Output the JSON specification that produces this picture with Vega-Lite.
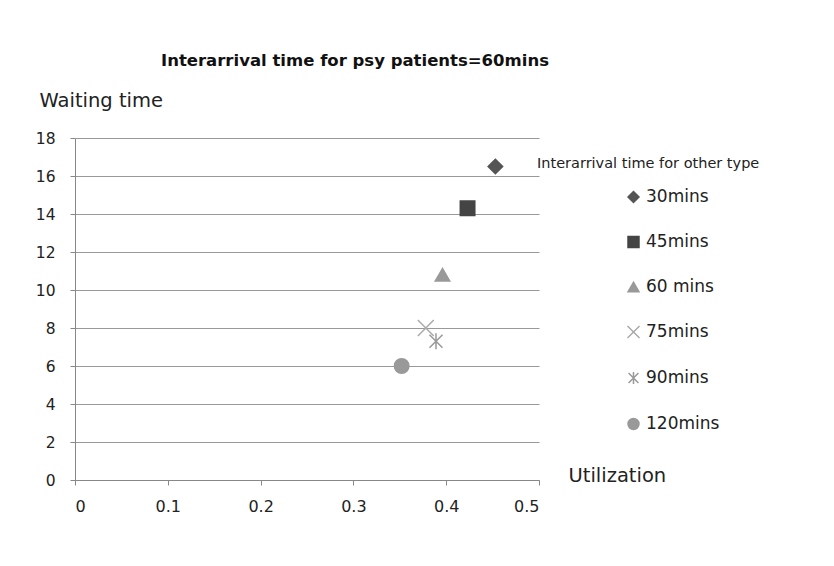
{
  "$schema": "https://vega.github.io/schema/vega-lite/v6.json",
  "width": 464,
  "height": 342,
  "autosize": {"type": "none"},
  "padding": {"left": 75, "top": 138, "right": 295, "bottom": 86},
  "background": "white",
  "title": {
    "text": "Interarrival time for psy patients=60mins",
    "anchor": "middle",
    "frame": "group",
    "dx": 48,
    "offset": 21,
    "font": "DejaVu Sans",
    "fontSize": 16.5,
    "fontWeight": "bold",
    "color": "#111"
  },
  "data": {
    "values": [
      {"type": "30mins", "util": 0.453, "wait": 16.5},
      {"type": "45mins", "util": 0.423, "wait": 14.3},
      {"type": "60 mins", "util": 0.396, "wait": 10.8},
      {"type": "75mins", "util": 0.378, "wait": 8.0},
      {"type": "90mins", "util": 0.389, "wait": 7.3},
      {"type": "120mins", "util": 0.352, "wait": 6.0}
    ]
  },
  "mark": {"type": "point", "filled": true, "size": 210, "strokeWidth": 1.5, "opacity": 1},
  "encoding": {
    "x": {
      "field": "util",
      "type": "quantitative",
      "scale": {"domain": [0, 0.5], "nice": false},
      "axis": {
        "values": [0, 0.1, 0.2, 0.3, 0.4, 0.5],
        "format": "~g",
        "grid": false,
        "title": "Utilization",
        "titleAngle": 0,
        "titleAlign": "left",
        "titleBaseline": "middle",
        "titleX": 493,
        "titleY": -5,
        "titleFont": "DejaVu Sans",
        "titleFontSize": 19.5,
        "titleFontWeight": "normal",
        "titleColor": "#222",
        "labelFont": "DejaVu Sans",
        "labelFontSize": 16,
        "labelColor": "#222",
        "labelPadding": 13,
        "tickSize": 5,
        "tickColor": "#888",
        "domainColor": "#888"
      }
    },
    "y": {
      "field": "wait",
      "type": "quantitative",
      "scale": {"domain": [0, 18], "nice": false},
      "axis": {
        "values": [0, 2, 4, 6, 8, 10, 12, 14, 16, 18],
        "grid": true,
        "gridColor": "#999",
        "gridWidth": 1,
        "title": "Waiting time",
        "titleAngle": 0,
        "titleAlign": "left",
        "titleBaseline": "alphabetic",
        "titleX": -36,
        "titleY": -32,
        "titleFont": "DejaVu Sans",
        "titleFontSize": 19.5,
        "titleFontWeight": "normal",
        "titleColor": "#222",
        "labelFont": "DejaVu Sans",
        "labelFontSize": 15.5,
        "labelColor": "#222",
        "labelPadding": 15,
        "tickSize": 5,
        "tickColor": "#888",
        "domainColor": "#888"
      }
    },
    "shape": {
      "field": "type",
      "type": "nominal",
      "scale": {
        "domain": ["30mins", "45mins", "60 mins", "75mins", "90mins", "120mins"],
        "range": ["diamond", "square", "triangle-up", "M-1.1,-1.1L1.1,1.1M-1.1,1.1L1.1,-1.1", "M-0.9,-0.9L0.9,0.9M-0.9,0.9L0.9,-0.9M0,-1.1L0,1.1", "circle"]
      },
      "legend": {
        "orient": "none",
        "legendX": 462,
        "legendY": 19,
        "title": "Interarrival time for other type",
        "titleLimit": 400,
        "titleFont": "DejaVu Sans",
        "titleFontSize": 14.5,
        "titleFontWeight": "normal",
        "titleColor": "#222",
        "titlePadding": 17,
        "labelFont": "DejaVu Sans",
        "labelFontSize": 17,
        "labelColor": "#222",
        "symbolOffset": 88,
        "symbolSize": 120,
        "symbolStrokeWidth": 1.5,
        "rowPadding": 27
      }
    },
    "fill": {
      "field": "type",
      "type": "nominal",
      "scale": {
        "domain": ["30mins", "45mins", "60 mins", "75mins", "90mins", "120mins"],
        "range": ["#555555", "#444444", "#999999", "#aaaaaa", "#999999", "#999999"]
      }
    },
    "stroke": {
      "field": "type",
      "type": "nominal",
      "scale": {
        "domain": ["30mins", "45mins", "60 mins", "75mins", "90mins", "120mins"],
        "range": ["#555555", "#444444", "#999999", "#aaaaaa", "#999999", "#999999"]
      }
    }
  },
  "config": {"view": {"stroke": null}}
}
